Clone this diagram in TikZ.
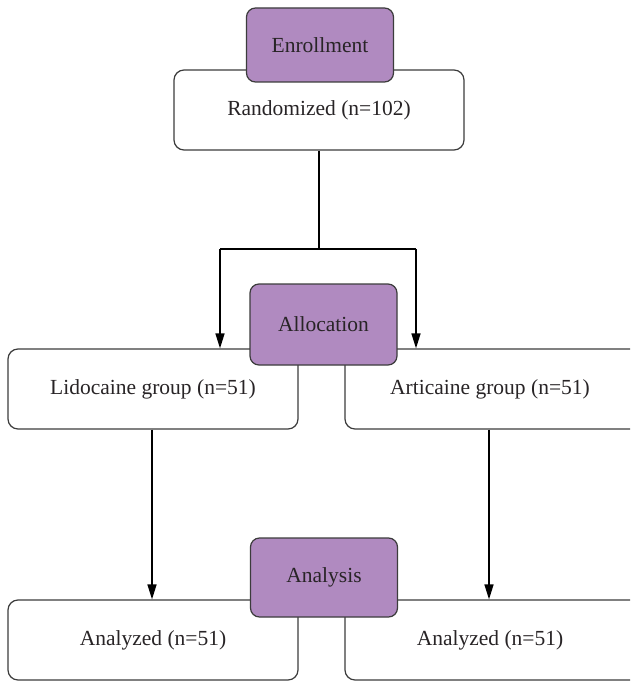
\documentclass[tikz,border=0pt]{standalone}
\usepackage{fontspec}
\setmainfont{Liberation Serif}
\usetikzlibrary{arrows.meta}
\definecolor{phase}{RGB}{176,138,192}
\definecolor{edge}{RGB}{60,60,60}
\definecolor{ink}{RGB}{40,36,38}
\tikzset{
  whitebox/.style={draw=edge, line width=1.2pt, fill=white, rounded corners=10pt,
    minimum width=290pt, minimum height=80pt, inner sep=0pt, text=ink,
    font=\fontsize{21.5}{25}\selectfont},
  phasebox/.style={draw=edge, line width=1.2pt, fill=phase, rounded corners=9pt,
    minimum width=147pt, minimum height=78pt, inner sep=0pt, text=ink,
    font=\fontsize{21.5}{25}\selectfont},
  mainline/.style={line width=2.2pt, black},
  flow/.style={line width=1.4pt, black, -{Triangle[width=9pt,length=15pt]}}
}
\begin{document}
\begin{tikzpicture}[x=1pt,y=-1pt]
\useasboundingbox (0,0) rectangle (630,682);
\clip (0,0) rectangle (630,682);
\fill[white] (0,0) rectangle (630,682);
% white boxes
\node[whitebox] (rand) at (319,110) {Randomized (n=102)};
\node[whitebox] (lido) at (153,389) {Lidocaine group (n=51)};
\node[whitebox, minimum width=320pt] (arti) at (505,389) {Articaine group (n=51)\hspace*{30pt}};
\node[whitebox] (an1) at (153,640) {Analyzed (n=51)};
\node[whitebox, minimum width=320pt] (an2) at (505,640) {Analyzed (n=51)\hspace*{30pt}};
% phase boxes
\node[phasebox, minimum height=74pt] (enroll) at (320,45) {Enrollment};
\node[phasebox, minimum height=81pt] (alloc) at (323.5,324.5) {Allocation};
\node[phasebox, minimum height=79pt] (analysis) at (324,577.5) {Analysis};
% connectors
\coordinate (split) at (319,249);
\coordinate (jl) at (220,249);
\coordinate (jr) at (416,249);
\draw[mainline] (rand.south) -- (split);
\draw[line width=1.8pt] (jl) -- (jr);
\draw[flow] (jl) -- (jl |- lido.north);
\draw[flow] (jr) -- (jr |- arti.north);
\draw[flow] (lido.south) ++(-1,0) coordinate (ls) -- (ls |- an1.north);
\draw[flow] (arti.south) ++(-16,0) coordinate (as) -- (as |- an2.north);
\end{tikzpicture}
\end{document}
